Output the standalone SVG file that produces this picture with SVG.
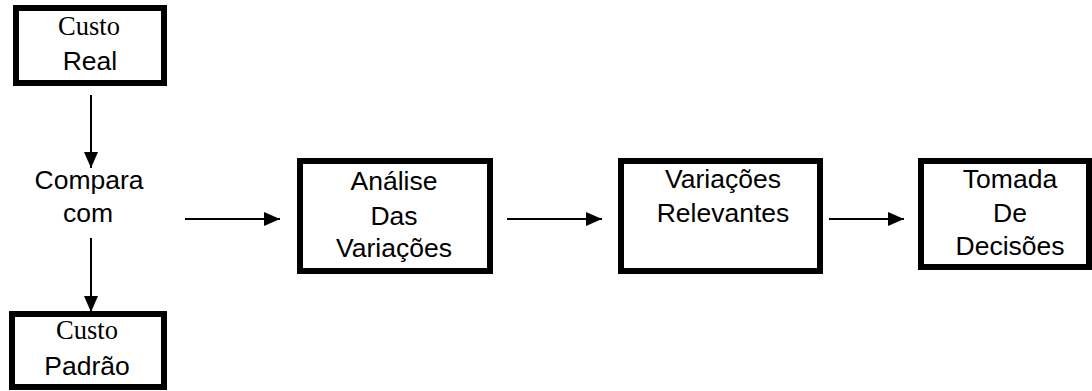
<svg xmlns="http://www.w3.org/2000/svg" width="1092" height="391" viewBox="0 0 1092 391">
<defs>
<marker id="ah" viewBox="0 0 16 14" refX="16" refY="7" markerWidth="16" markerHeight="14" markerUnits="userSpaceOnUse" orient="auto">
<path d="M0,0 L16,7 L0,14 Z" fill="#000"/>
</marker>
<style>
.box{fill:#fff;stroke:#000;stroke-width:6}
.t{font-family:"Liberation Sans",Arial,sans-serif;font-size:26.5px;fill:#000;text-anchor:middle}
.s{font-family:"Liberation Serif","Times New Roman",serif;font-size:26.5px;fill:#000;text-anchor:middle}
.c{stroke:#000;stroke-width:2;fill:none;marker-end:url(#ah)}
</style>
</defs>
<rect width="1092" height="391" fill="#fff"/>
<g id="connectors">
<line class="c" x1="91" y1="95" x2="91" y2="168"/>
<line class="c" x1="91" y1="238" x2="91" y2="312"/>
<line class="c" x1="185" y1="219" x2="280" y2="219"/>
<line class="c" x1="507" y1="219" x2="602" y2="219"/>
<line class="c" x1="829" y1="219" x2="904" y2="219"/>
</g>
<g id="custo-real">
<rect class="box" x="16" y="8" width="148" height="75"/>
<text class="s" x="89" y="35">Custo</text>
<text class="t" x="90" y="70">Real</text>
</g>
<g id="compara-com">
<text class="t" x="89" y="189">Compara</text>
<text class="t" x="88" y="222">com</text>
</g>
<g id="custo-padrao">
<rect class="box" x="12" y="314" width="152" height="73"/>
<text class="s" x="87" y="339">Custo</text>
<text class="t" x="87" y="375">Padrão</text>
</g>
<g id="analise">
<rect class="box" x="300" y="161" width="190" height="110"/>
<text class="t" x="394" y="190">Análise</text>
<text class="t" x="394" y="225">Das</text>
<text class="t" x="394" y="257">Variações</text>
</g>
<g id="variacoes-relevantes">
<rect class="box" x="621" y="161" width="199" height="110"/>
<text class="t" x="723" y="188">Variações</text>
<text class="t" x="723" y="222">Relevantes</text>
</g>
<g id="tomada">
<rect class="box" x="921" y="161" width="168" height="106"/>
<text class="t" x="1010" y="188">Tomada</text>
<text class="t" x="1010" y="222">De</text>
<text class="t" x="1010" y="255">Decisões</text>
</g>
</svg>
